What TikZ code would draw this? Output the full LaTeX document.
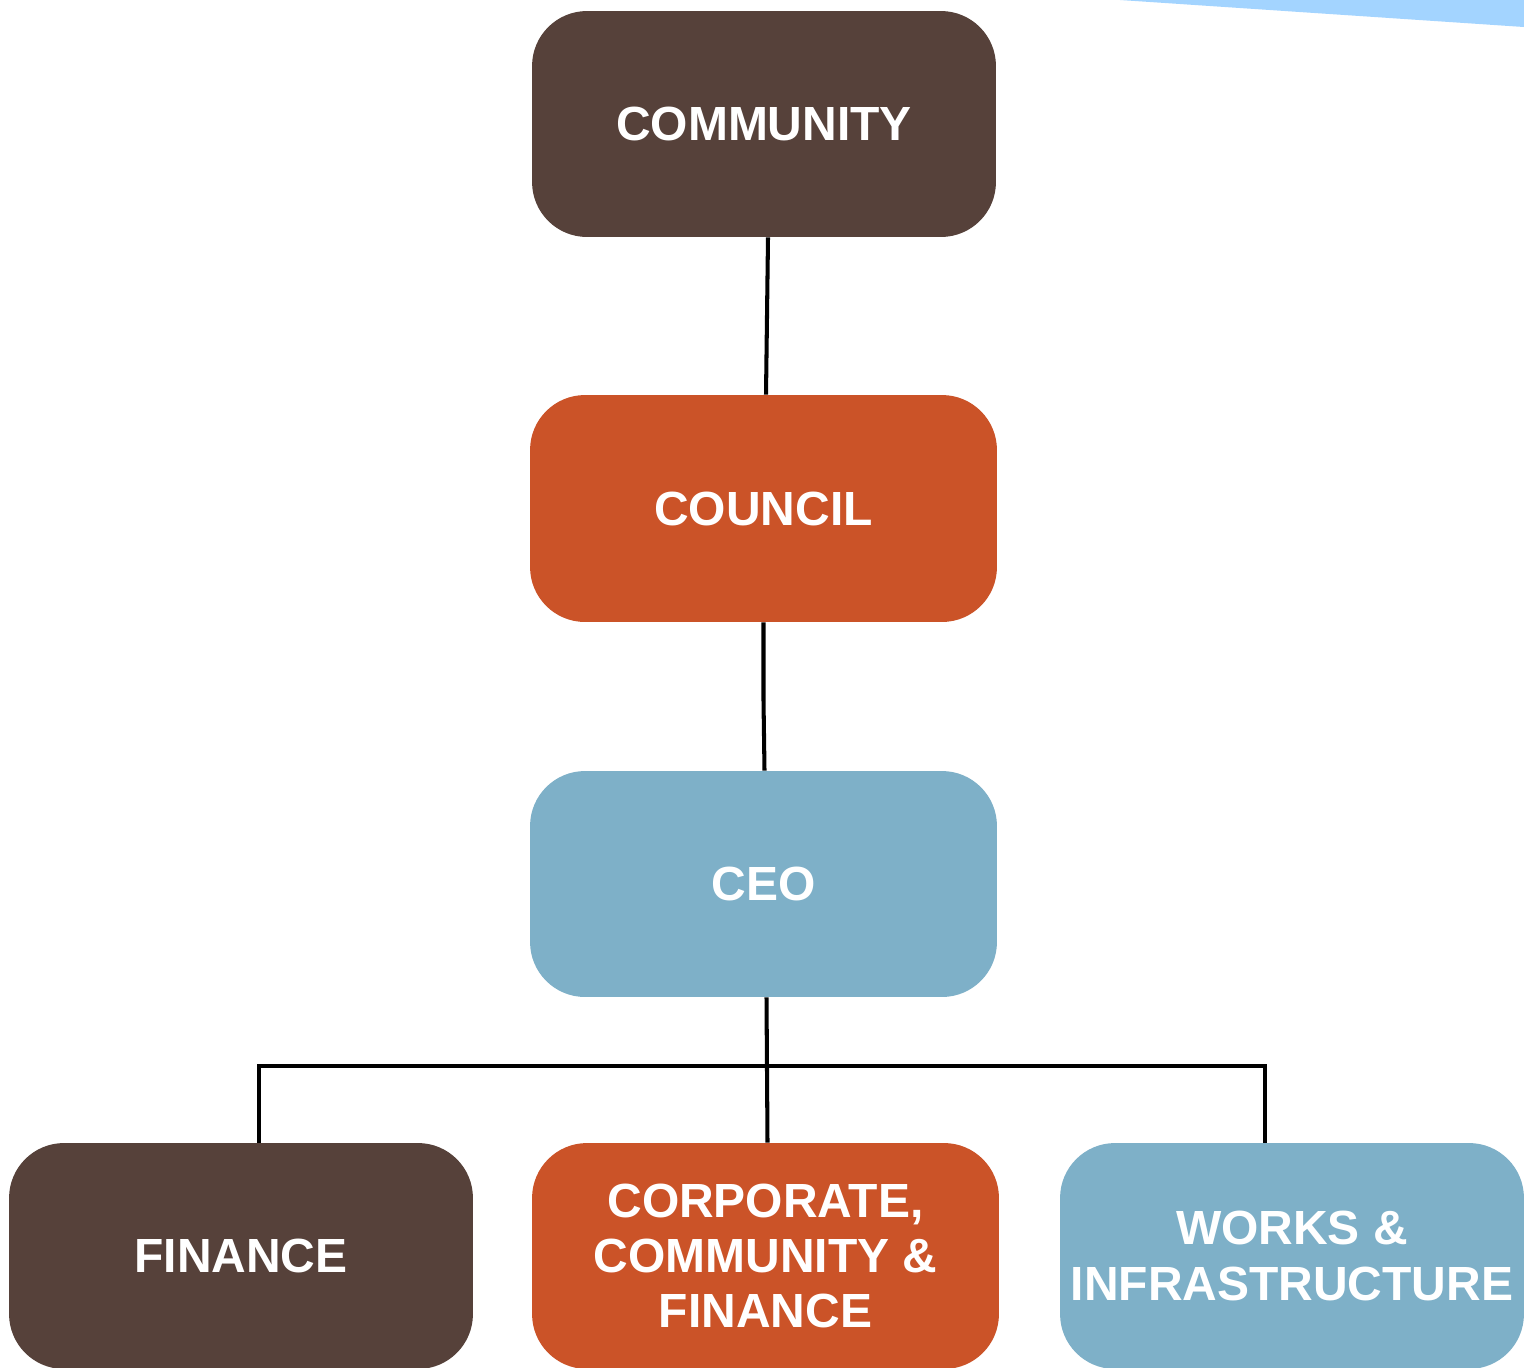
\documentclass[tikz,border=0pt]{standalone}
\usepackage{fontspec}
\setmainfont{Liberation Sans}
\usetikzlibrary{calc}
\definecolor{cbrown}{HTML}{56413A}
\definecolor{corange}{HTML}{CB5328}
\definecolor{cblue}{HTML}{7EB0C8}
\definecolor{clight}{HTML}{A3D4FF}
\tikzset{
  orgbox/.style={rectangle, rounded corners=1.1cm, inner sep=0pt, align=center,
    text=white, font=\fontsize{27.3}{31.4}\selectfont\bfseries},
  link/.style={draw=black, line width=2.3pt}
}
\begin{document}
\begin{tikzpicture}[x=0.02cm,y=-0.02cm]
\useasboundingbox (0,0) rectangle (1524,1367);
\clip (0,0) rectangle (1524,1367);
\fill[white] (0,0) rectangle (1524,1367);
\fill[clight] (1120,0) -- (1524,0) -- (1524,27) -- cycle;
\node[orgbox, fill=cbrown, minimum width=9.28cm, minimum height=4.52cm] (community) at (764,124) {COMMUNITY};
\node[orgbox, fill=corange, minimum width=9.34cm, minimum height=4.54cm] (council) at (763.5,508.5) {COUNCIL};
\node[orgbox, fill=cblue, minimum width=9.34cm, minimum height=4.52cm] (ceo) at (763.5,884) {CEO};
\node[orgbox, fill=cbrown, minimum width=9.28cm, minimum height=4.52cm] (fin) at (241,1256) {FINANCE};
\node[orgbox, fill=corange, minimum width=9.34cm, minimum height=4.52cm] (corp) at (765.5,1256) {CORPORATE,\\COMMUNITY \&\\FINANCE};
\node[orgbox, fill=cblue, minimum width=9.28cm, minimum height=4.52cm] (works) at (1292,1256) {WORKS \&\\INFRASTRUCTURE};
\coordinate (bus) at (0,1066);
\coordinate (finin) at ($(fin.north)+(18,0)$);
\coordinate (worksin) at ($(works.north)+(-27,0)$);
\coordinate (ceoout) at ($(ceo.south)+(3,0)$);
\coordinate (corpin) at ($(corp.north)+(2,0)$);
\draw[link] ($(community.south)+(4,0)$) -- ($(council.north)+(2.5,0)$);
\draw[link] (council.south) -- ($(council.south)+(0,78)$) -- ($(ceo.north)+(1,0)$);
\draw[link] (ceoout) -- (corpin);
\draw[link] (finin) -- (finin |- bus) -- (worksin |- bus) -- (worksin);
\end{tikzpicture}
\end{document}
